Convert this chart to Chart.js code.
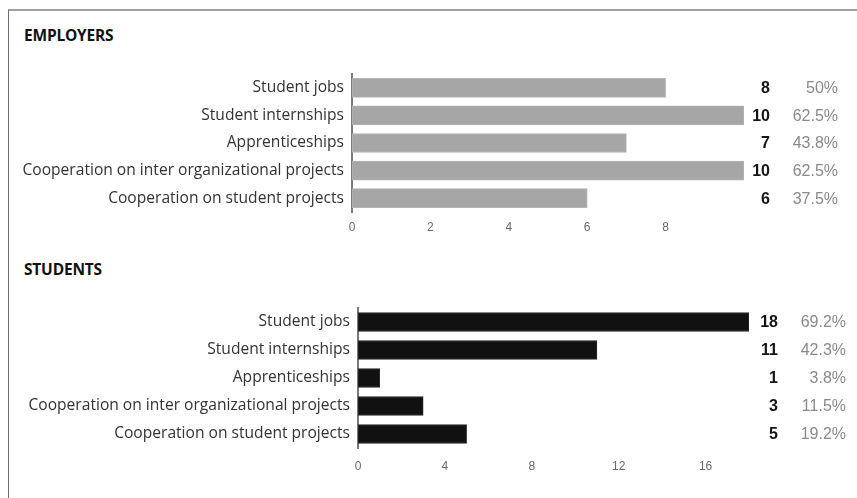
<!DOCTYPE html>
<html>
<head>
<meta charset="utf-8">
<script src="https://cdn.jsdelivr.net/npm/chart.js@4.4.1/dist/chart.umd.min.js"></script>
<style>
  html,body{margin:0;padding:0;background:#fff;}
  body{width:857px;height:498px;position:relative;overflow:hidden;}
  #frame{position:absolute;left:8px;top:9px;width:860px;height:500px;border-top:2px solid #a0a0a0;border-left:1px solid #707070;}
  .ttl{position:absolute;left:24px;font-family:"Open Sans","Lato",sans-serif;font-weight:700;font-size:15.5px;color:#111;letter-spacing:-0.2px;}
  canvas{position:absolute;left:0;}
</style>
</head>
<body>
<div id="frame"></div>
<div class="ttl" style="top:24px;">EMPLOYERS</div>
<div class="ttl" style="top:258px;">STUDENTS</div>
<canvas id="c1" width="857" height="250" style="top:0;"></canvas>
<canvas id="c2" width="857" height="248" style="top:250px;"></canvas>
<script>
const categories = ["Student jobs","Student internships","Apprenticeships","Cooperation on inter organizational projects","Cooperation on student projects"];
const employersCounts = [8,10,7,10,6];
const employersPct = ["50%","62.5%","43.8%","62.5%","37.5%"];
const employersMax = 10;
const employersStep = 2;
const studentsCounts = [18,11,1,3,5];
const studentsPct = ["69.2%","42.3%","3.8%","11.5%","19.2%"];
const studentsMax = 18;
const studentsStep = 4;

// pick label font size so the longest label spans ~321px
const catFamily = '"Open Sans", Lato, sans-serif';
const mctx = document.createElement('canvas').getContext('2d');
mctx.font = '100px ' + catFamily;
const longW = mctx.measureText(categories[3]).width;
const catSize = Math.round(321 / longW * 100 * 10) / 10;

const valuePlugin = {
  id: 'valueLabels',
  afterDatasetsDraw(chart, args, opts) {
    const ctx = chart.ctx;
    const meta = chart.getDatasetMeta(0);
    ctx.save();
    ctx.textBaseline = 'middle';
    ctx.textAlign = 'right';
    meta.data.forEach((bar, i) => {
      ctx.font = 'bold 16px "Liberation Sans", Arial, sans-serif';
      ctx.fillStyle = '#151515';
      ctx.fillText(String(opts.counts[i]), opts.numX, bar.y + 1);
      ctx.font = '16px "Liberation Sans", Arial, sans-serif';
      ctx.fillStyle = '#8a8a8a';
      ctx.fillText(opts.pct[i], opts.pctX, bar.y + 1);
    });
    ctx.restore();
  }
};

function makeChart(id, counts, pct, max, step, color, yWidth, rightPad, topPad, xHeight, tickPad, numX, pctX) {
  return new Chart(document.getElementById(id), {
    type: 'bar',
    data: {
      labels: categories,
      datasets: [{
        data: counts,
        backgroundColor: color,
        borderColor: color === '#111111' ? '#2a2a2a' : '#b4b4b4',
        borderWidth: 1,
        borderSkipped: false,
        barThickness: 19
      }]
    },
    options: {
      indexAxis: 'y',
      responsive: false,
      animation: false,
      layout: { padding: { left: 0, right: rightPad, top: topPad, bottom: 0 } },
      plugins: {
        legend: { display: false },
        tooltip: { enabled: false },
        valueLabels: { counts: counts, pct: pct, numX: numX, pctX: pctX }
      },
      scales: {
        x: {
          min: 0, max: max,
          grid: { display: false, drawTicks: false },
          border: { display: false },
          ticks: {
            stepSize: step,
            padding: tickPad,
            color: '#6a6a6a',
            font: { family: '"Liberation Sans", Arial, sans-serif', size: 12 }
          },
          afterBuildTicks(scale) {
            scale.ticks = scale.ticks.filter(t => t.value < max && t.value % step === 0);
          },
          afterFit(scale) { scale.height = xHeight; }
        },
        y: {
          grid: { display: false, drawTicks: false },
          border: { display: true, color: '#7a7a7a', width: 2 },
          ticks: {
            padding: 8,
            color: '#333333',
            font: { family: catFamily, size: catSize }
          },
          afterFit(scale) { scale.width = yWidth; }
        }
      }
    },
    plugins: [valuePlugin]
  });
}

makeChart('c1', employersCounts, employersPct, employersMax, employersStep, '#a6a6a6', 352, 113, 74, 38, 8, 770, 838);
makeChart('c2', studentsCounts, studentsPct, studentsMax, studentsStep, '#111111', 358, 108, 58, 50, 11, 778, 846);
</script>
</body>
</html>
